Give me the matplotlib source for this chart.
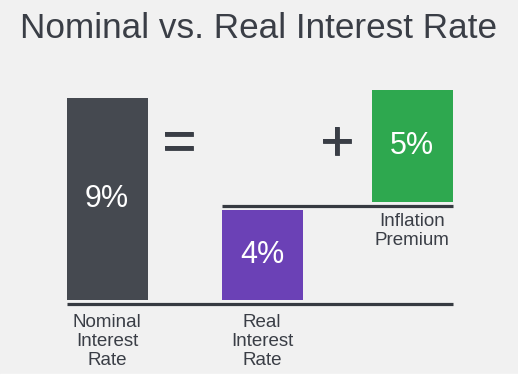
import matplotlib.pyplot as plt
import matplotlib.patheffects as pe
from matplotlib.patches import Rectangle

plt.rcParams['font.family'] = ['Liberation Sans', 'DejaVu Sans']

# Data
categories = ["Nominal\nInterest\nRate", "Real\nInterest\nRate", "Inflation\nPremium"]
rates = [9, 4, 5]
colors = ['#454950', '#6b41b6', '#2ea84f']

txt = '#3a3e46'
bg = '#f1f1f1'

fig = plt.figure(figsize=(5.18, 3.81), dpi=100, facecolor=bg)
ax = fig.add_axes([0, 0, 1, 1])
ax.set_facecolor(bg)
px = 22.5  # pixels per percentage point
ax.set_xlim(0, 518)
ax.set_ylim(-(381 - 304) / px, 304 / px)
ax.axis('off')

xs = [107, 262, 412]
w = 81
gap = 4 / px

# nominal bar and real rate bar on the baseline, premium stacked above the line
ax.bar(xs[0], rates[0], w, bottom=gap, color=colors[0])
ax.bar(xs[1], rates[1], w, bottom=gap, color=colors[1])
upper = rates[1] + 2 * gap
ax.bar(xs[2], rates[2], w, bottom=upper + gap, color=colors[2])

ax.plot([xs[0] - w / 2, xs[2] + w / 2], [0, 0], color='#363a41', lw=2.3, solid_capstyle='butt')
ax.plot([xs[1] - w / 2, xs[2] + w / 2], [upper, upper], color='#363a41', lw=2.3, solid_capstyle='butt')

# value labels
bottoms = [gap, gap, upper + gap]
for x, r, b in zip(xs, rates, bottoms):
    ax.text(x, b + r / 2, f"{r}%", color='white', fontsize=22, ha='center', va='center')

# operators
stroke = [pe.withStroke(linewidth=0.6, foreground=txt)]
ax.text(179, (304 - 145) / px, "=", fontsize=41, color=txt, ha='center', va='center', path_effects=stroke)
ax.text(337, (304 - 145) / px, "+", fontsize=41, color=txt, ha='center', va='center', path_effects=stroke)

# category labels
ax.text(xs[0], -(314 - 304) / px, categories[0], fontsize=13.5, color=txt, ha='center', va='top', linespacing=1.15)
ax.text(xs[1], -(314 - 304) / px, categories[1], fontsize=13.5, color=txt, ha='center', va='top', linespacing=1.15)
ax.text(xs[2], upper - 7 / px, categories[2], fontsize=13.5, color=txt, ha='center', va='top', linespacing=1.15)

fig.text(0.5, 1 - 37.7 / 381, "Nominal vs. Real Interest Rate", fontsize=25.3, color=txt,
         ha='center', va='baseline')

# white strip at the bottom
fig.patches.append(Rectangle((0, 0), 1, 7 / 381, transform=fig.transFigure, color='white', zorder=10))

fig.savefig('out.png', dpi=100, facecolor=bg)
